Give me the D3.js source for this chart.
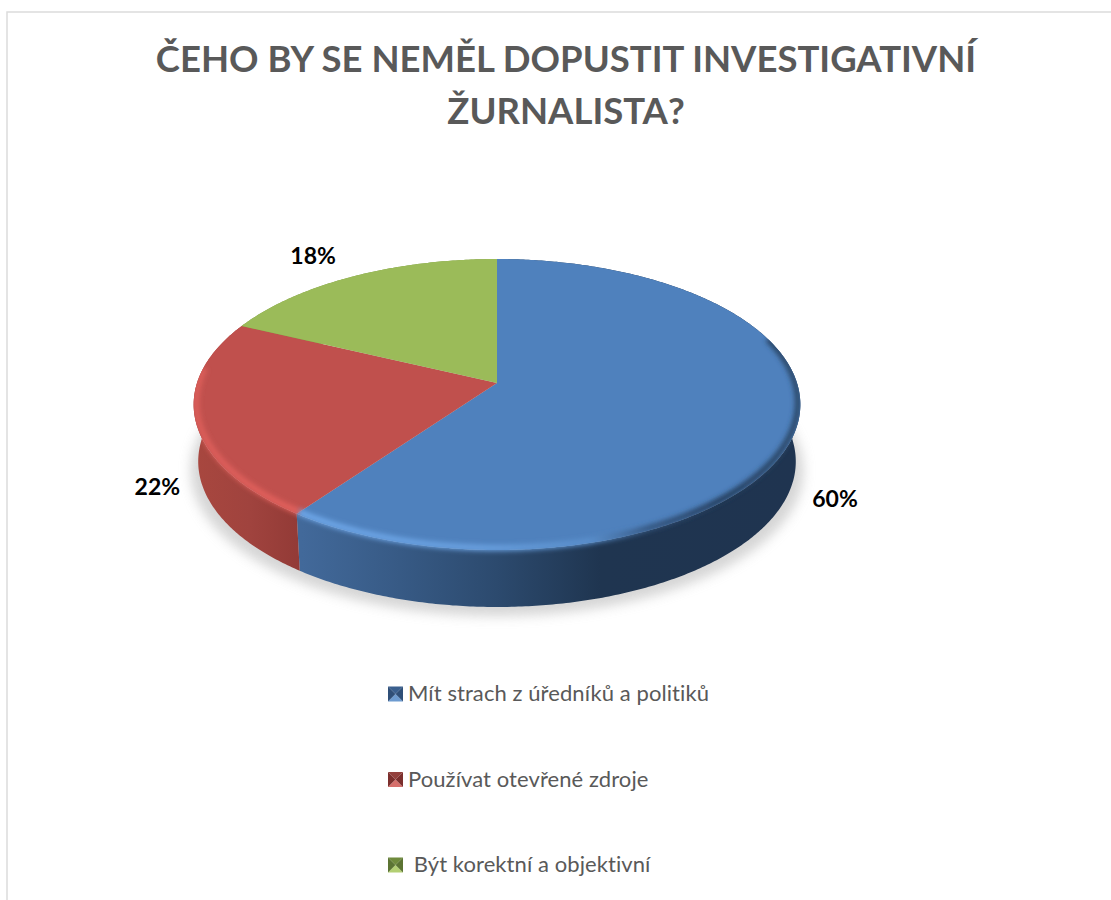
<!DOCTYPE html>
<html>
<head>
<meta charset="utf-8">
<script src="https://cdn.jsdelivr.net/npm/d3@7"></script>
<style>
  body { margin: 0; background: #fff; }
  text { font-family: Lato, "Open Sans", sans-serif; white-space: pre; }
</style>
</head>
<body>
<div class="chart"></div>
<script>
const titleLines = ["ČEHO BY SE NEMĚL DOPUSTIT INVESTIGATIVNÍ", "ŽURNALISTA?"];
const categories = ["Mít strach z úředníků a politiků", "Používat otevřené zdroje", " Být korektní a objektivní"];
const values = [60, 22, 18];
const valueLabels = ["60%", "22%", "18%"];

const width = 1111;
const height = 900;

// tilted disc: perspective map of the unit circle, fitted to the picture
const cx = 497, apexY = 383, rX = 300, rY = 85.7, persp = -0.1478;
const depth = 57, baseShrink = 0.985;

const topColors = ["#4f81bd", "#c0504d", "#9bbb59"];
const keyColors = [
  { top: "#3a5f8e", side: "#2f4f78", bottom: "#6d9bd0" },
  { top: "#93403c", side: "#7c2f2d", bottom: "#d66f6b" },
  { top: "#6f8a3c", side: "#5c7433", bottom: "#b3cf73" }
];

const svg = d3
  .select(".chart")
  .append("svg")
  .attr("width", width)
  .attr("height", height)
  .style("display", "block");

const defs = svg.append("defs");

function project(a, lift = 0, shrink = 1) {
  const u = Math.sin(a), v = -Math.cos(a), w = 1 + persp * v;
  return [cx + (shrink * rX * u) / w, (rY * v + apexY) / w + lift];
}

function arcPoints(a0, a1, lift, shrink) {
  const n = Math.max(2, Math.ceil((a1 - a0) / 0.01));
  return d3.range(n + 1).map(i => project(a0 + ((a1 - a0) * i) / n, lift, shrink));
}

const line = d3.line();
const slices = d3.pie().sort(null).value(d => d)(values);

function hGradient(id, stops) {
  const g = defs
    .append("linearGradient")
    .attr("id", id)
    .attr("gradientUnits", "userSpaceOnUse")
    .attr("x1", 0)
    .attr("x2", width)
    .attr("y1", 0)
    .attr("y2", 0);
  stops.forEach(s =>
    g
      .append("stop")
      .attr("offset", s[0] / width)
      .attr("stop-color", s[1])
  );
}

hGradient("wall0", [[302, "#42699a"], [400, "#375a85"], [497, "#2c4a6e"], [600, "#1f3550"], [800, "#1f3450"]]);
hGradient("wall1", [[195, "#a8473f"], [250, "#a0433e"], [302, "#923a36"]]);
hGradient("wall2", [[245, "#7d9a45"], [497, "#7d9a45"]]);
hGradient("rim0", [[300, "#6fa8ea"], [480, "#6aa1e0"], [590, "#5a8fcc"], [650, "#33547d"], [720, "#223a58"], [800, "#2b4869"]]);
hGradient("rim1", [[190, "#dc5e5a"], [302, "#e4625d"]]);

function blur(id, amount) {
  defs
    .append("filter")
    .attr("id", id)
    .attr("x", "-10%")
    .attr("y", "-10%")
    .attr("width", "120%")
    .attr("height", "120%")
    .append("feGaussianBlur")
    .attr("stdDeviation", amount);
}
blur("soft", 2.8);
blur("softer", 6);

const clip = defs.append("clipPath").attr("id", "disc");
clip.append("path").attr("d", line(arcPoints(0, 2 * Math.PI, 0, 1)) + "Z");
clip
  .append("path")
  .attr(
    "d",
    line(
      arcPoints(Math.PI * 0.5, Math.PI * 1.5, 0, 1).concat(
        arcPoints(Math.PI * 0.5, Math.PI * 1.5, depth, baseShrink).reverse()
      )
    ) + "Z"
  );

// chart frame
svg
  .append("path")
  .attr("d", d3.line()([[7, height], [7, 12], [width, 12]]))
  .attr("fill", "none")
  .attr("stroke", "#dcdcdc")
  .attr("stroke-width", 1.5);

// title
svg
  .selectAll(".title")
  .data(titleLines)
  .enter()
  .append("text")
  .attr("class", "title")
  .attr("x", 566)
  .attr("y", (d, i) => 72 + i * 52)
  .attr("text-anchor", "middle")
  .attr("font-size", 36.5)
  .attr("font-weight", 700)
  .attr("fill", "#595959")
  .text(d => d);

// shadow under the disc
svg
  .append("path")
  .attr("d", line(arcPoints(0, 2 * Math.PI, depth + 9, 1.01)) + "Z")
  .attr("fill", "#c4c4c4")
  .attr("opacity", 0.7)
  .attr("filter", "url(#softer)");

// side walls
svg
  .selectAll(".wall")
  .data(slices)
  .enter()
  .append("path")
  .attr("class", "wall")
  .attr("d", d =>
    line(
      arcPoints(d.startAngle, d.endAngle, 0, 1).concat(
        arcPoints(d.startAngle, d.endAngle, depth, baseShrink).reverse()
      )
    ) + "Z"
  )
  .attr("fill", (d, i) => `url(#wall${i})`);

// top faces
svg
  .selectAll(".slice")
  .data(slices)
  .enter()
  .append("path")
  .attr("class", "slice")
  .attr("d", d => line([[cx, apexY]].concat(arcPoints(d.startAngle, d.endAngle, 0, 1))) + "Z")
  .attr("fill", (d, i) => topColors[i]);

// bevel along the rim
const bevel = svg.append("g").attr("clip-path", "url(#disc)");
bevel
  .append("path")
  .attr("d", line(arcPoints(Math.PI * 0.4, slices[0].endAngle, -2, 0.992)))
  .attr("fill", "none")
  .attr("stroke", "url(#rim0)")
  .attr("stroke-width", 6)
  .attr("filter", "url(#soft)");
bevel
  .append("path")
  .attr("d", line(arcPoints(slices[1].startAngle, slices[1].endAngle - 0.35, -2, 0.992)))
  .attr("fill", "none")
  .attr("stroke", "url(#rim1)")
  .attr("stroke-width", 6)
  .attr("filter", "url(#soft)");

// value labels, placed off the rim point at each slice's middle angle
const labelOffsets = [[39, 70], [-38, 67], [-41, -20]];
svg
  .selectAll(".value")
  .data(slices)
  .enter()
  .append("text")
  .attr("class", "value")
  .attr("x", (d, i) => project((d.startAngle + d.endAngle) / 2)[0] + labelOffsets[i][0])
  .attr("y", (d, i) => project((d.startAngle + d.endAngle) / 2)[1] + labelOffsets[i][1] + 8)
  .attr("text-anchor", "middle")
  .attr("font-size", 23)
  .attr("font-weight", 700)
  .attr("fill", "#000")
  .text((d, i) => valueLabels[i]);

// legend
const legendY = d3.scalePoint().domain(categories).range([694, 865]);
const keySize = 15;
const legend = svg
  .selectAll(".legend")
  .data(categories)
  .enter()
  .append("g")
  .attr("class", "legend")
  .attr("transform", d => `translate(388, ${legendY(d)})`);

legend.each(function(d, i) {
  const g = d3.select(this);
  const s = keySize, h = s / 2;
  const c = keyColors[i];
  const tri = [
    [[[0, -h], [s, -h], [h, 0]], c.top],
    [[[0, h], [s, h], [h, 0]], c.bottom],
    [[[0, -h], [0, h], [h, 0]], c.side],
    [[[s, -h], [s, h], [h, 0]], c.side]
  ];
  g.selectAll("path")
    .data(tri)
    .enter()
    .append("path")
    .attr("d", t => line(t[0]) + "Z")
    .attr("fill", t => t[1]);
});

legend
  .append("text")
  .attr("x", 20)
  .attr("y", 7)
  .attr("font-size", 22)
  .attr("letter-spacing", 0.08)
  .attr("fill", "#595959")
  .text(d => d);
</script>
</body>
</html>
